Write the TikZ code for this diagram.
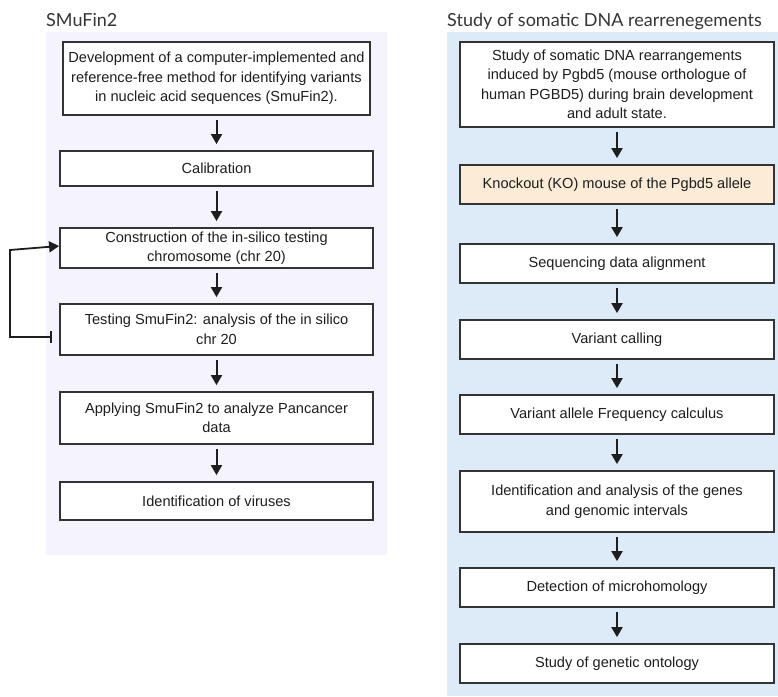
\documentclass[tikz,border=0pt]{standalone}
\usepackage{fontspec}
\setmainfont{Liberation Sans}
\newfontfamily\titlefont{Lato}
\usetikzlibrary{arrows.meta,calc}
\definecolor{panelL}{HTML}{F5F3FD}
\definecolor{panelR}{HTML}{DDEAF8}
\definecolor{koFill}{HTML}{FCEBD6}
\definecolor{ink}{HTML}{1E1E1E}
\definecolor{edge}{HTML}{333333}
\tikzset{
  stepbox/.style={draw=edge, line width=1.8pt, fill=white, align=center,
    text=ink, font=\fontsize{14.6}{19.5}\selectfont, inner sep=0pt},
  flow/.style={draw=ink, line width=2pt,
    -{Triangle[length=10pt,width=11pt]}, shorten <=4pt, shorten >=6pt},
  paneltitle/.style={anchor=base west, inner sep=0pt, text=ink!90,
    font=\titlefont\fontsize{18}{21}\selectfont},
}
\begin{document}
\begin{tikzpicture}[x=1pt,y=-1pt]
\useasboundingbox (0,0) rectangle (778,696);
% panel backgrounds
\fill[panelL] (46,32) rectangle (387,555);
\fill[panelR] (447,32) rectangle (778,696);
\node[paneltitle] (tL) at (46,26) {SMuFin2};
\node[paneltitle] (tR) at (447,26) {Study of somatic DNA rearrenegements};

% left column: SMuFin2
\node[stepbox, minimum width=307pt, minimum height=73pt] (l1) at (216.5,78.5)
  {Development of a computer-implemented and\\reference-free method for identifying variants\\in nucleic acid sequences (SmuFin2).};
\node[stepbox, minimum width=313pt, minimum height=35pt] (l2) at (216.5,168.5) {Calibration};
\node[stepbox, minimum width=313pt, minimum height=40pt] (l3) at (216.5,248)
  {Construction of the in-silico testing\\chromosome (chr 20)};
\node[stepbox, minimum width=313pt, minimum height=51pt] (l4) at (216.5,329.5)
  {Testing SmuFin2: analysis of the in silico\\chr 20};
\node[stepbox, minimum width=313pt, minimum height=52pt] (l5) at (216.5,418)
  {Applying SmuFin2 to analyze Pancancer\\data};
\node[stepbox, minimum width=313pt, minimum height=38pt] (l6) at (216.5,501)
  {Identification of viruses};

\draw[flow] (l1) -- (l2);
\draw[flow] (l2) -- (l3);
\draw[flow] (l3) -- (l4);
\draw[flow] (l4) -- (l5);
\draw[flow] (l5) -- (l6);

% feedback loop from the test back to the chromosome construction
\coordinate (fbStart) at ($(l4.west)+(-7,7.5)$);
\draw[draw=ink, line width=1.8pt, {Bar[width=12pt]}-{Triangle[length=10pt,width=11pt]}]
  (fbStart) -- (10,337) -- (10,250) -- ([yshift=2pt]l3.west);

% right column: somatic DNA rearrangements
\node[stepbox, minimum width=314pt, minimum height=85pt] (r1) at (617,84.5)
  {Study of somatic DNA rearrangements\\induced by Pgbd5 (mouse orthologue of\\human PGBD5) during brain development\\and adult state.};
\node[stepbox, fill=koFill, minimum width=314pt, minimum height=39pt] (r2) at (617,184.5)
  {Knockout (KO) mouse of the Pgbd5 allele};
\node[stepbox, minimum width=314pt, minimum height=39pt] (r3) at (617,263.5)
  {Sequencing data alignment};
\node[stepbox, minimum width=314pt, minimum height=39pt] (r4) at (617,339.5)
  {Variant calling};
\node[stepbox, minimum width=314pt, minimum height=39pt] (r5) at (617,414.5)
  {Variant allele Frequency calculus};
\node[stepbox, minimum width=314pt, minimum height=61pt] (r6) at (617,501.5)
  {Identification and analysis of the genes\\and genomic intervals};
\node[stepbox, minimum width=314pt, minimum height=39pt] (r7) at (617,587.5)
  {Detection of microhomology};
\node[stepbox, minimum width=314pt, minimum height=39pt] (r8) at (617,663.5)
  {Study of genetic ontology};

\draw[flow] (r1) -- (r2);
\draw[flow] (r2) -- (r3);
\draw[flow] (r3) -- (r4);
\draw[flow] (r4) -- (r5);
\draw[flow] (r5) -- (r6);
\draw[flow] (r6) -- (r7);
\draw[flow] (r7) -- (r8);
\end{tikzpicture}
\end{document}
